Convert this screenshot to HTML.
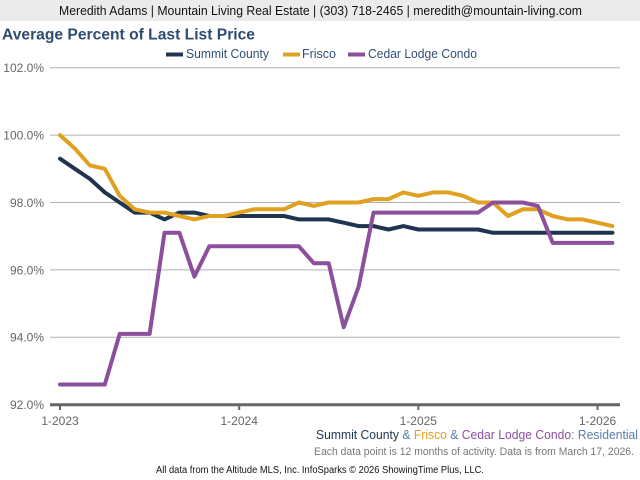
<!DOCTYPE html>
<html><head><meta charset="utf-8"><style>
html,body{margin:0;padding:0;background:#fff;}
svg{display:block;}
text{font-family:"Liberation Sans",Arial,sans-serif;}
</style></head><body>
<svg width="640" height="480" viewBox="0 0 640 480" xmlns="http://www.w3.org/2000/svg">
<rect x="0" y="0" width="640" height="480" fill="#fff"/>
<rect x="0" y="0" width="640" height="21" fill="#ebebeb"/>
<text x="320.5" y="15" font-size="12.5" fill="#111" text-anchor="middle" textLength="523" lengthAdjust="spacingAndGlyphs">Meredith Adams | Mountain Living Real Estate | (303) 718-2465 | meredith@mountain-living.com</text>
<text x="2" y="39.5" font-size="16" font-weight="bold" fill="#2d4c70" textLength="253" lengthAdjust="spacingAndGlyphs">Average Percent of Last List Price</text>

<!-- legend -->
<rect x="166" y="52.5" width="17" height="4" fill="#1e3450"/>
<text x="186" y="58" font-size="12.5" fill="#2f5078" textLength="83" lengthAdjust="spacingAndGlyphs">Summit County</text>
<rect x="283" y="52.5" width="17" height="4" fill="#e0a020"/>
<text x="302" y="58" font-size="12.5" fill="#2f5078" textLength="34" lengthAdjust="spacingAndGlyphs">Frisco</text>
<rect x="348" y="52.5" width="17" height="4" fill="#8b4f9b"/>
<text x="368" y="58" font-size="12.5" fill="#2f5078" textLength="109" lengthAdjust="spacingAndGlyphs">Cedar Lodge Condo</text>

<!-- gridlines -->
<g stroke="#b0b0b0" stroke-width="1">
<line x1="50" y1="67.7" x2="620" y2="67.7"/>
<line x1="50" y1="135.1" x2="620" y2="135.1"/>
<line x1="50" y1="202.5" x2="620" y2="202.5"/>
<line x1="50" y1="269.9" x2="620" y2="269.9"/>
<line x1="50" y1="337.3" x2="620" y2="337.3"/>
</g>
<g font-size="12" fill="#666" text-anchor="end">
<text x="44" y="72">102.0%</text>
<text x="44" y="139.5">100.0%</text>
<text x="44" y="207">98.0%</text>
<text x="44" y="274.5">96.0%</text>
<text x="44" y="341.5">94.0%</text>
<text x="44" y="409">92.0%</text>
</g>
<!-- axis -->
<line x1="50" y1="404.7" x2="620" y2="404.7" stroke="#666" stroke-width="3"/>
<g stroke="#666" stroke-width="2">
<line x1="60" y1="404" x2="60" y2="410"/>
<line x1="239.2" y1="404" x2="239.2" y2="410"/>
<line x1="418.3" y1="404" x2="418.3" y2="410"/>
<line x1="597.5" y1="404" x2="597.5" y2="410"/>
</g>
<g font-size="12" fill="#666" text-anchor="middle">
<text x="60" y="425">1-2023</text>
<text x="239.2" y="425">1-2024</text>
<text x="418.3" y="425">1-2025</text>
<text x="597.5" y="425">1-2026</text>
</g>

<!-- series -->
<g fill="none" stroke-width="4" stroke-linejoin="round" stroke-linecap="round">
<polyline stroke="#1e3450" points="60.0,158.7 74.9,168.8 89.9,178.9 104.8,192.4 119.7,202.5 134.7,212.6 149.6,212.6 164.5,219.4 179.4,212.6 194.4,212.6 209.3,216.0 224.2,216.0 239.2,216.0 254.1,216.0 269.0,216.0 284.0,216.0 298.9,219.4 313.8,219.4 328.7,219.4 343.7,222.7 358.6,226.1 373.5,226.1 388.5,229.5 403.4,226.1 418.3,229.5 433.3,229.5 448.2,229.5 463.1,229.5 478.0,229.5 493.0,232.8 507.9,232.8 522.8,232.8 537.8,232.8 552.7,232.8 567.6,232.8 582.6,232.8 597.5,232.8 612.4,232.8"/>
<polyline stroke="#e0a020" points="60.0,135.1 74.9,148.6 89.9,165.4 104.8,168.8 119.7,195.8 134.7,209.3 149.6,212.6 164.5,212.6 179.4,216.0 194.4,219.4 209.3,216.0 224.2,216.0 239.2,212.6 254.1,209.3 269.0,209.3 284.0,209.3 298.9,202.5 313.8,205.9 328.7,202.5 343.7,202.5 358.6,202.5 373.5,199.1 388.5,199.1 403.4,192.4 418.3,195.8 433.3,192.4 448.2,192.4 463.1,195.8 478.0,202.5 493.0,202.5 507.9,216.0 522.8,209.3 537.8,209.3 552.7,216.0 567.6,219.4 582.6,219.4 597.5,222.7 612.4,226.1"/>
<polyline stroke="#8b4f9b" points="60.0,384.5 74.9,384.5 89.9,384.5 104.8,384.5 119.7,333.9 134.7,333.9 149.6,333.9 164.5,232.8 179.4,232.8 194.4,276.6 209.3,246.3 224.2,246.3 239.2,246.3 254.1,246.3 269.0,246.3 284.0,246.3 298.9,246.3 313.8,263.2 328.7,263.2 343.7,327.2 358.6,286.8 373.5,212.6 388.5,212.6 403.4,212.6 418.3,212.6 433.3,212.6 448.2,212.6 463.1,212.6 478.0,212.6 493.0,202.5 507.9,202.5 522.8,202.5 537.8,205.9 552.7,242.9 567.6,242.9 582.6,242.9 597.5,242.9 612.4,242.9"/>
</g>

<!-- footer -->
<text x="638" y="439" font-size="13" text-anchor="end" textLength="322" lengthAdjust="spacingAndGlyphs"><tspan fill="#1e3450">Summit County</tspan><tspan fill="#5a7fa8"> &amp; </tspan><tspan fill="#e0a020">Frisco</tspan><tspan fill="#5a7fa8"> &amp; </tspan><tspan fill="#8b4f9b">Cedar Lodge Condo</tspan><tspan fill="#5a7fa8">: Residential</tspan></text>
<text x="634" y="455" font-size="11" fill="#777" text-anchor="end" textLength="320" lengthAdjust="spacingAndGlyphs">Each data point is 12 months of activity. Data is from March 17, 2026.</text>
<text x="320" y="473" font-size="10" fill="#111" text-anchor="middle" textLength="328" lengthAdjust="spacingAndGlyphs">All data from the Altitude MLS, Inc. InfoSparks © 2026 ShowingTime Plus, LLC.</text>
</svg>
</body></html>
